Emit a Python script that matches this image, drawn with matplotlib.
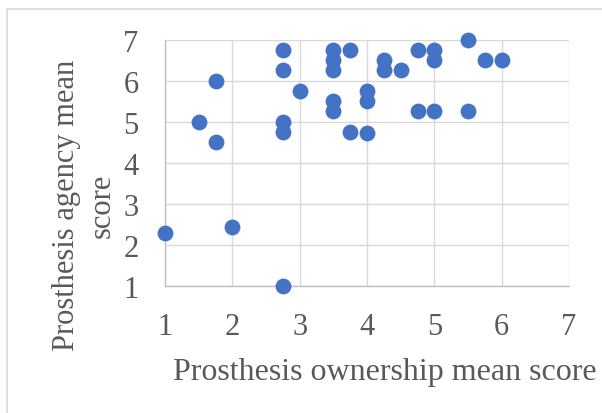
import matplotlib
matplotlib.use("Agg")
import matplotlib.pyplot as plt
from matplotlib.patches import Rectangle

ownership = [1, 1.5, 1.75, 1.75, 2, 2.75, 2.75, 2.75, 2.75, 2.75, 3,
             3.5, 3.5, 3.5, 3.5, 3.5, 3.75, 3.75, 4, 4, 4, 4.25, 4.25, 4.5,
             4.75, 4.75, 5, 5, 5, 5.5, 5.5, 5.75, 6]
agency = [2.28, 5, 6, 4.5, 2.43, 6.75, 6.25, 5, 4.75, 1, 5.75,
          6.75, 6.5, 6.25, 5.5, 5.25, 6.75, 4.75, 5.75, 5.5, 4.72, 6.5, 6.25, 6.25,
          6.75, 5.25, 6.75, 6.5, 5.25, 7, 5.25, 6.5, 6.5]
ticks = [1, 2, 3, 4, 5, 6, 7]
xlabel = "Prosthesis ownership mean score"
ylabel = "Prosthesis agency mean\nscore"

W, H = 602, 414
fig = plt.figure(figsize=(W / 100, H / 100), dpi=100)
plt.rcParams['font.family'] = ['Liberation Serif', 'DejaVu Serif']

# chart border (left/top visible)
fig.patches.append(Rectangle((7 / W, -0.1), 1.2, 1 - 10 / H + 0.1, transform=fig.transFigure,
                             fill=False, edgecolor='#D9D9D9', linewidth=1.2))

left, right = 165 / W, 569 / W
top, bottom = 1 - 40.7 / H, 1 - 286.7 / H
ax = fig.add_axes([left, bottom, right - left, top - bottom])
ax.set_xlim(1, 7)
ax.set_ylim(1, 7)
ax.set_xticks(ticks)
ax.set_yticks(ticks)
ax.grid(True, color='#D9D9D9', linewidth=1.0)
ax.set_axisbelow(True)
for s in ['top', 'right']:
    ax.spines[s].set_visible(False)
for s in ['left', 'bottom']:
    ax.spines[s].set_color('#BFBFBF')
    ax.spines[s].set_linewidth(1.0)
ax.tick_params(length=0, labelsize=22, labelcolor='#595959', pad=19)
ax.scatter(ownership, agency, s=130, color='#4472C4', zorder=3, clip_on=False, linewidths=0)

fig.text(385 / W, 1 - 380 / H, xlabel, fontsize=23, color='#595959',
         ha='center', va='baseline')
fig.text(84 / W, 1 - 205.5 / H, ylabel, fontsize=22, color='#595959', rotation=90,
         ha='center', va='center', multialignment='center', linespacing=1.3)

fig.savefig("out.png", dpi=100)
